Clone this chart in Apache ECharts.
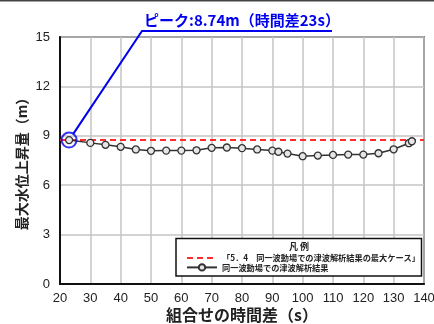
<!DOCTYPE html>
<html><head><meta charset="utf-8">
<script src="https://cdn.jsdelivr.net/npm/echarts@6/dist/echarts.min.js"></script>
<style>html,body{margin:0;padding:0;background:#fff}#c{width:434px;height:324px}</style>
</head><body><div id="c"></div>
<script>
// ---- data ----
const timeDiff = [23,30,35,40,45,50,55,60,65,70,75,80,85,90,92,95,100,105,110,115,120,125,130,135,136];
const maxRise  = [8.74,8.57,8.45,8.33,8.17,8.09,8.10,8.10,8.12,8.27,8.29,8.25,8.17,8.10,8.03,7.92,7.76,7.80,7.84,7.86,7.86,7.94,8.18,8.55,8.67];
const refMaxValue = 8.74;
const refXRange = [20, 140];
const peakPoint = [23, 8.74];
const seriesNames = ['「5．4　同一波動場での津波解析結果の最大ケース」', '同一波動場での津波解析結果'];
const peakText = 'ピーク:8.74m（時間差23s）';
const legendTitle = '凡 例';
const xName = '組合せの時間差（s）';
const yName = '最大水位上昇量（m）';

const JP = '"Noto Sans CJK JP", sans-serif';
const NUM = '"Liberation Sans", Arial, sans-serif';

const chart = echarts.init(document.getElementById('c'), null, {renderer: 'canvas'});
const option = {
  animation: false,
  grid: {left: 60, right: 10, top: 37, bottom: 40, show: true, borderColor: '#111', borderWidth: 1.5,
         containLabel: false, outerBoundsMode: 'none'},
  xAxis: {
    type: 'value', min: 20, max: 140, interval: 10,
    name: xName, nameLocation: 'middle', nameGap: 23, nameMoveOverlap: false,
    nameTextStyle: {fontFamily: JP, fontWeight: 'bold', fontSize: 16, color: '#222'},
    axisLine: {lineStyle: {color: '#111', width: 2}},
    axisTick: {show: false},
    axisLabel: {fontFamily: NUM, fontSize: 13, color: '#222', margin: 8},
    splitLine: {lineStyle: {color: '#c4c4c4', width: 1.5}}
  },
  yAxis: {
    type: 'value', min: 0, max: 15, interval: 3,
    name: yName, nameLocation: 'middle', nameGap: 31, nameRotate: 90, nameMoveOverlap: false,
    nameTextStyle: {fontFamily: JP, fontWeight: 'bold', fontSize: 14, color: '#222'},
    axisLine: {show: true, lineStyle: {color: '#111', width: 2}},
    axisTick: {show: false},
    axisLabel: {fontFamily: NUM, fontSize: 13, color: '#222', margin: 10},
    splitLine: {lineStyle: {color: '#c4c4c4', width: 1.5}}
  },
  legend: {
    data: seriesNames, orient: 'vertical', left: 186, top: 254, zlevel: 2,
    itemWidth: 30, itemHeight: 8, itemGap: 1, padding: 0,
    textStyle: {fontFamily: JP, fontSize: 8.2, fontWeight: 'bold', color: '#222'}
  },
  series: [
    {
      name: seriesNames[0], type: 'line', symbol: 'none', z: 2,
      data: [[refXRange[0], refMaxValue], [refXRange[1], refMaxValue]],
      itemStyle: {color: 'rgba(0,0,0,0)'},
      lineStyle: {color: '#ff2a2a', width: 2, type: [6, 4]}
    },
    {
      name: seriesNames[1], type: 'line', z: 3,
      data: timeDiff.map((x, i) => [x, maxRise[i]]),
      symbol: 'circle', symbolSize: 7,
      lineStyle: {color: '#333', width: 1.5},
      itemStyle: {color: '#e6e6e6', borderColor: '#333', borderWidth: 1.3}
    },
    {
      name: 'peak', type: 'scatter', z: 4, silent: true,
      data: [peakPoint], symbol: 'circle', symbolSize: 15,
      itemStyle: {color: 'rgba(0,0,0,0)', borderColor: '#0000ee', borderWidth: 2}
    }
  ]
};
chart.setOption(option);

const p = chart.convertToPixel({xAxisIndex: 0, yAxisIndex: 0}, peakPoint);
const elbow = [142, 31], lineEnd = 332;
const dx = elbow[0] - p[0], dy = elbow[1] - p[1], len = Math.hypot(dx, dy);
const start = [p[0] + dx / len * 7.5, p[1] + dy / len * 7.5];
chart.setOption({
  graphic: [
    {type: 'line', shape: {x1: 0, y1: 0.5, x2: 434, y2: 0.5}, style: {stroke: '#444', lineWidth: 2}},
    {type: 'polyline', shape: {points: [start, elbow, [lineEnd, elbow[1]]]}, style: {stroke: '#0000ee', lineWidth: 2, fill: null}, z: 10},
    {type: 'text', x: 144, y: 28, style: {text: peakText, fill: '#0000ee', font: 'bold 15px ' + JP, textVerticalAlign: 'bottom'}, z: 10},
    {type: 'rect', shape: {x: 176, y: 238.5, width: 245.5, height: 37.5}, style: {fill: '#fff', stroke: '#111', lineWidth: 1.5}, z: 5},
    {type: 'text', x: 299, y: 247, style: {text: legendTitle, fill: '#222', font: 'bold 9px ' + JP, textAlign: 'center', textVerticalAlign: 'middle'}, z: 6}
  ]
});
</script></body></html>
